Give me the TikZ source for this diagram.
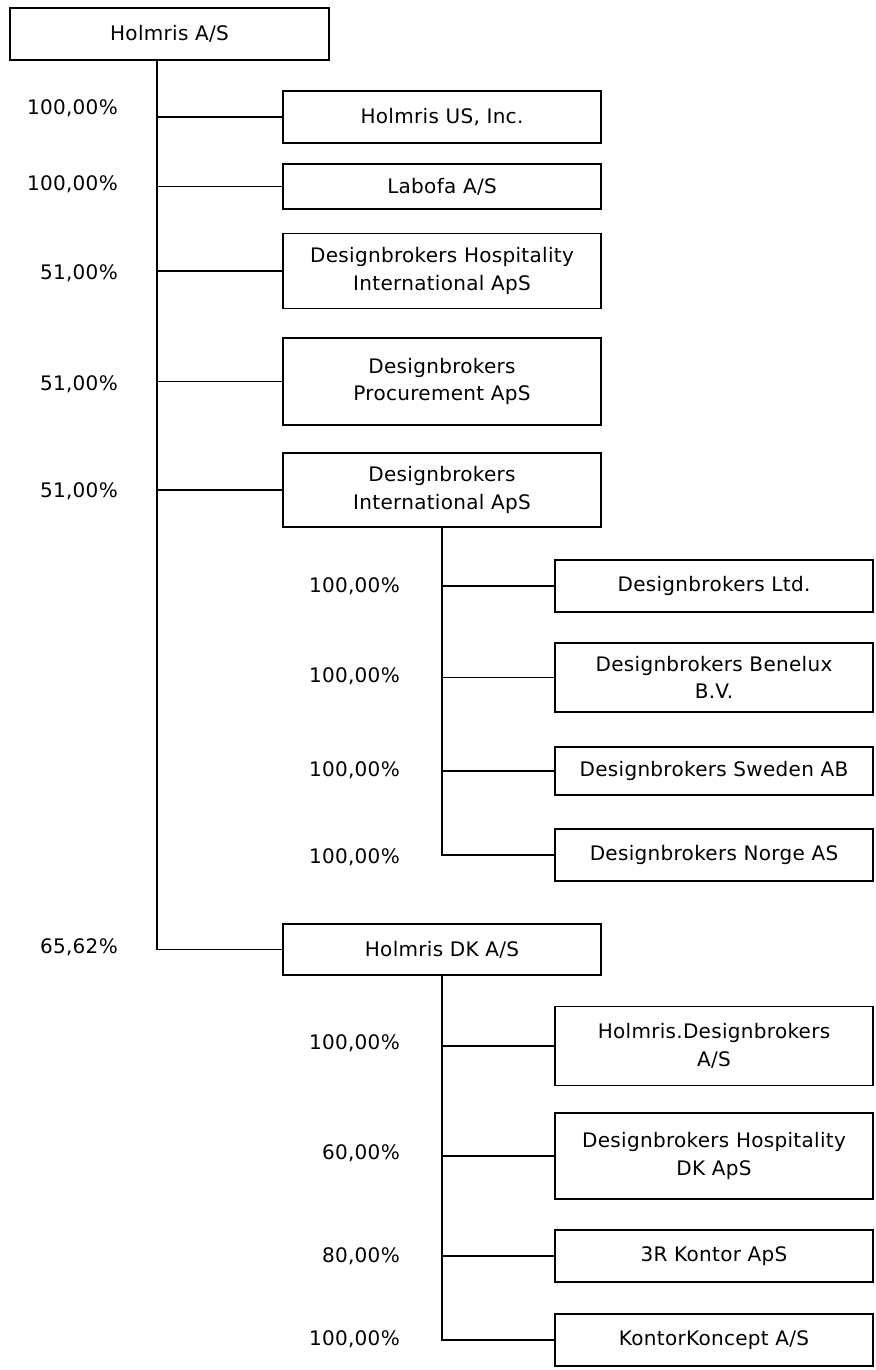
\documentclass[tikz,border=0pt]{standalone}
\usepackage{fontspec}
\setmainfont[LetterSpace=1.5]{DejaVu Sans}
\begin{document}
\begin{tikzpicture}[x=1pt, y=-1pt, font=\fontsize{20}{27.5}\selectfont,
    entity/.style={draw, line width=1.6pt, minimum width=318pt, inner sep=2pt, align=center},
    link/.style={line width=1.3pt},
    pct/.style={anchor=east, inner sep=0pt}]
    \useasboundingbox (0,0) rectangle (875,1370);

    \node[entity, minimum width=319pt, minimum height=52pt] (hq) at (169.5,34) {Holmris A/S};
    \coordinate (trunk) at (157,0);

    \node[entity, minimum height=52pt] (us) at (442,117) {Holmris US, Inc.};
    \node[entity, minimum height=45pt] (labofa) at (442,186.5) {Labofa A/S};
    \node[entity, minimum height=75pt] (dbhi) at (442,271) {Designbrokers Hospitality\\International ApS};
    \node[entity, minimum height=87pt] (dbproc) at (442,381.5) {Designbrokers\\Procurement ApS};
    \node[entity, minimum height=74pt] (dbint) at (442,490) {Designbrokers\\International ApS};
    \node[entity, minimum height=51pt] (hdk) at (442,949.5) {Holmris DK A/S};

    \node[entity, minimum height=52pt] (dbltd) at (714,586) {Designbrokers Ltd.};
    \node[entity, minimum height=69pt] (dbbnl) at (714,677.5) {Designbrokers Benelux\\B.V.};
    \node[entity, minimum height=48pt] (dbswe) at (714,771) {Designbrokers Sweden AB};
    \node[entity, minimum height=52pt] (dbnor) at (714,855) {Designbrokers Norge AS};

    \node[entity, minimum height=79pt] (hdb) at (714,1046) {Holmris.Designbrokers\\A/S};
    \node[entity, minimum height=86pt] (dbhdk) at (714,1156) {Designbrokers Hospitality\\DK ApS};
    \node[entity, minimum height=52pt] (kontor) at (714,1256) {3R Kontor ApS};
    \node[entity, minimum height=52pt] (kk) at (714,1340) {KontorKoncept A/S};

    \foreach \c in {us,labofa,dbhi,dbproc,dbint,hdk}
        \draw[link] (hq.south -| trunk) |- (\c.west);
    \foreach \c in {dbltd,dbbnl,dbswe,dbnor}
        \draw[link] (dbint.south) |- (\c.west);
    \foreach \c in {hdb,dbhdk,kontor,kk}
        \draw[link] (hdk.south) |- (\c.west);

    \node[pct] (pus) at (118,108) {100,00\%};
    \node[pct] (plabofa) at (118,184) {100,00\%};
    \node[pct] (pdbhi) at (118,273) {51,00\%};
    \node[pct] (pdbproc) at (118,384) {51,00\%};
    \node[pct] (pdbint) at (118,491) {51,00\%};
    \node[pct] (phdk) at (118,947) {65,62\%};

    \node[pct] (pdbltd) at (400,586) {100,00\%};
    \node[pct] (pdbbnl) at (400,676) {100,00\%};
    \node[pct] (pdbswe) at (400,770) {100,00\%};
    \node[pct] (pdbnor) at (400,857) {100,00\%};
    \node[pct] (phdb) at (400,1043) {100,00\%};
    \node[pct] (pdbhdk) at (400,1153) {60,00\%};
    \node[pct] (pkontor) at (400,1256) {80,00\%};
    \node[pct] (pkk) at (400,1339) {100,00\%};
\end{tikzpicture}
\end{document}
